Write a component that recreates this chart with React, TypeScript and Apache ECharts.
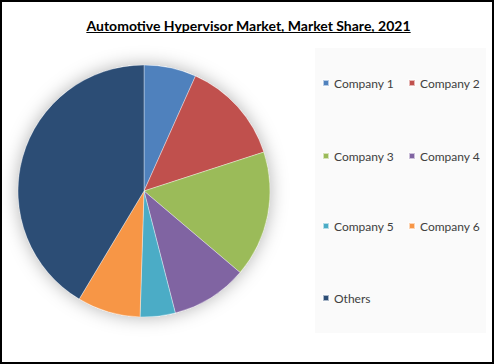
import React, { useEffect, useRef } from "react";
import * as echarts from "echarts";

const TITLE = "Automotive Hypervisor Market, Market Share, 2021";
const categories = ["Company 1", "Company 2", "Company 3", "Company 4", "Company 5", "Company 6", "Others"];
const shares = [6.7, 13.3, 16.2, 9.8, 4.5, 8.1, 41.4];
const colors = ["#4F81BD", "#C0504D", "#9BBB59", "#8064A2", "#4BACC6", "#F79646", "#2C4D75"];

const FONT = "Lato, 'Liberation Sans', sans-serif";

export default function App() {
  const ref = useRef<HTMLDivElement>(null);
  useEffect(() => {
    if (!ref.current) return;
    const chart = echarts.init(ref.current, undefined, { renderer: "svg" });

    const ctx = document.createElement("canvas").getContext("2d")!;
    ctx.font = `bold 14px ${FONT}`;
    const tw = ctx.measureText(TITLE).width;
    const tcx = 248.5;

    const legendPos = [
      [322, 84], [408, 84],
      [322, 157], [408, 157],
      [322, 227], [408, 227],
      [322, 299],
    ];

    const legends = categories.map((name, i) => ({
      data: [name],
      left: legendPos[i][0],
      top: legendPos[i][1] - 7,
      orient: "horizontal",
      padding: 0,
      itemWidth: 6,
      itemHeight: 6,
      icon: "rect",
      selectedMode: false,
      textStyle: { fontFamily: FONT, fontSize: 12, color: "#404040", padding: [0, 0, 0, 0] },
    }));

    chart.setOption({
      animation: false,
      backgroundColor: "#fff",
      color: colors,
      graphic: [
        {
          type: "rect",
          shape: { x: 1, y: 1, width: 492, height: 362 },
          style: { fill: "none", stroke: "#000", lineWidth: 2 },
          z: 100,
        },
        {
          type: "rect",
          shape: { x: 315, y: 48, width: 171, height: 285 },
          style: { fill: "#FAFAFA" },
          z: -10,
        },
        {
          type: "text",
          x: tcx,
          y: 25,
          style: {
            text: TITLE,
            font: `bold 14px ${FONT}`,
            fill: "#000",
            align: "center",
            verticalAlign: "middle",
          },
        },
        {
          type: "line",
          shape: { x1: tcx - tw / 2, y1: 32.5, x2: tcx + tw / 2, y2: 32.5 },
          style: { stroke: "#000", lineWidth: 1 },
        },
      ],
      legend: legends,
      series: [
        {
          type: "pie",
          name: "shadow",
          silent: true,
          center: [144, 191],
          radius: 126,
          label: { show: false },
          labelLine: { show: false },
          z: 1,
          data: [{ value: 1, name: "__bg", itemStyle: { color: "#fff", shadowBlur: 18, shadowColor: "rgba(0,0,0,0.3)" } }],
        },
        {
          type: "pie",
          center: [144, 191],
          radius: 126,
          startAngle: 90,
          clockwise: true,
          z: 2,
          label: { show: false },
          labelLine: { show: false },
          itemStyle: { borderColor: "rgba(255,255,255,0.6)", borderWidth: 0.6 },
          emphasis: { disabled: true },
          data: categories.map((c, i) => ({ name: c, value: shares[i] })),
        },
      ],
    });
    return () => chart.dispose();
  }, []);
  return (
    <div
      ref={ref}
      style={{ position: "fixed", left: 0, top: 0, width: 494, height: 364 }}
    />
  );
}
